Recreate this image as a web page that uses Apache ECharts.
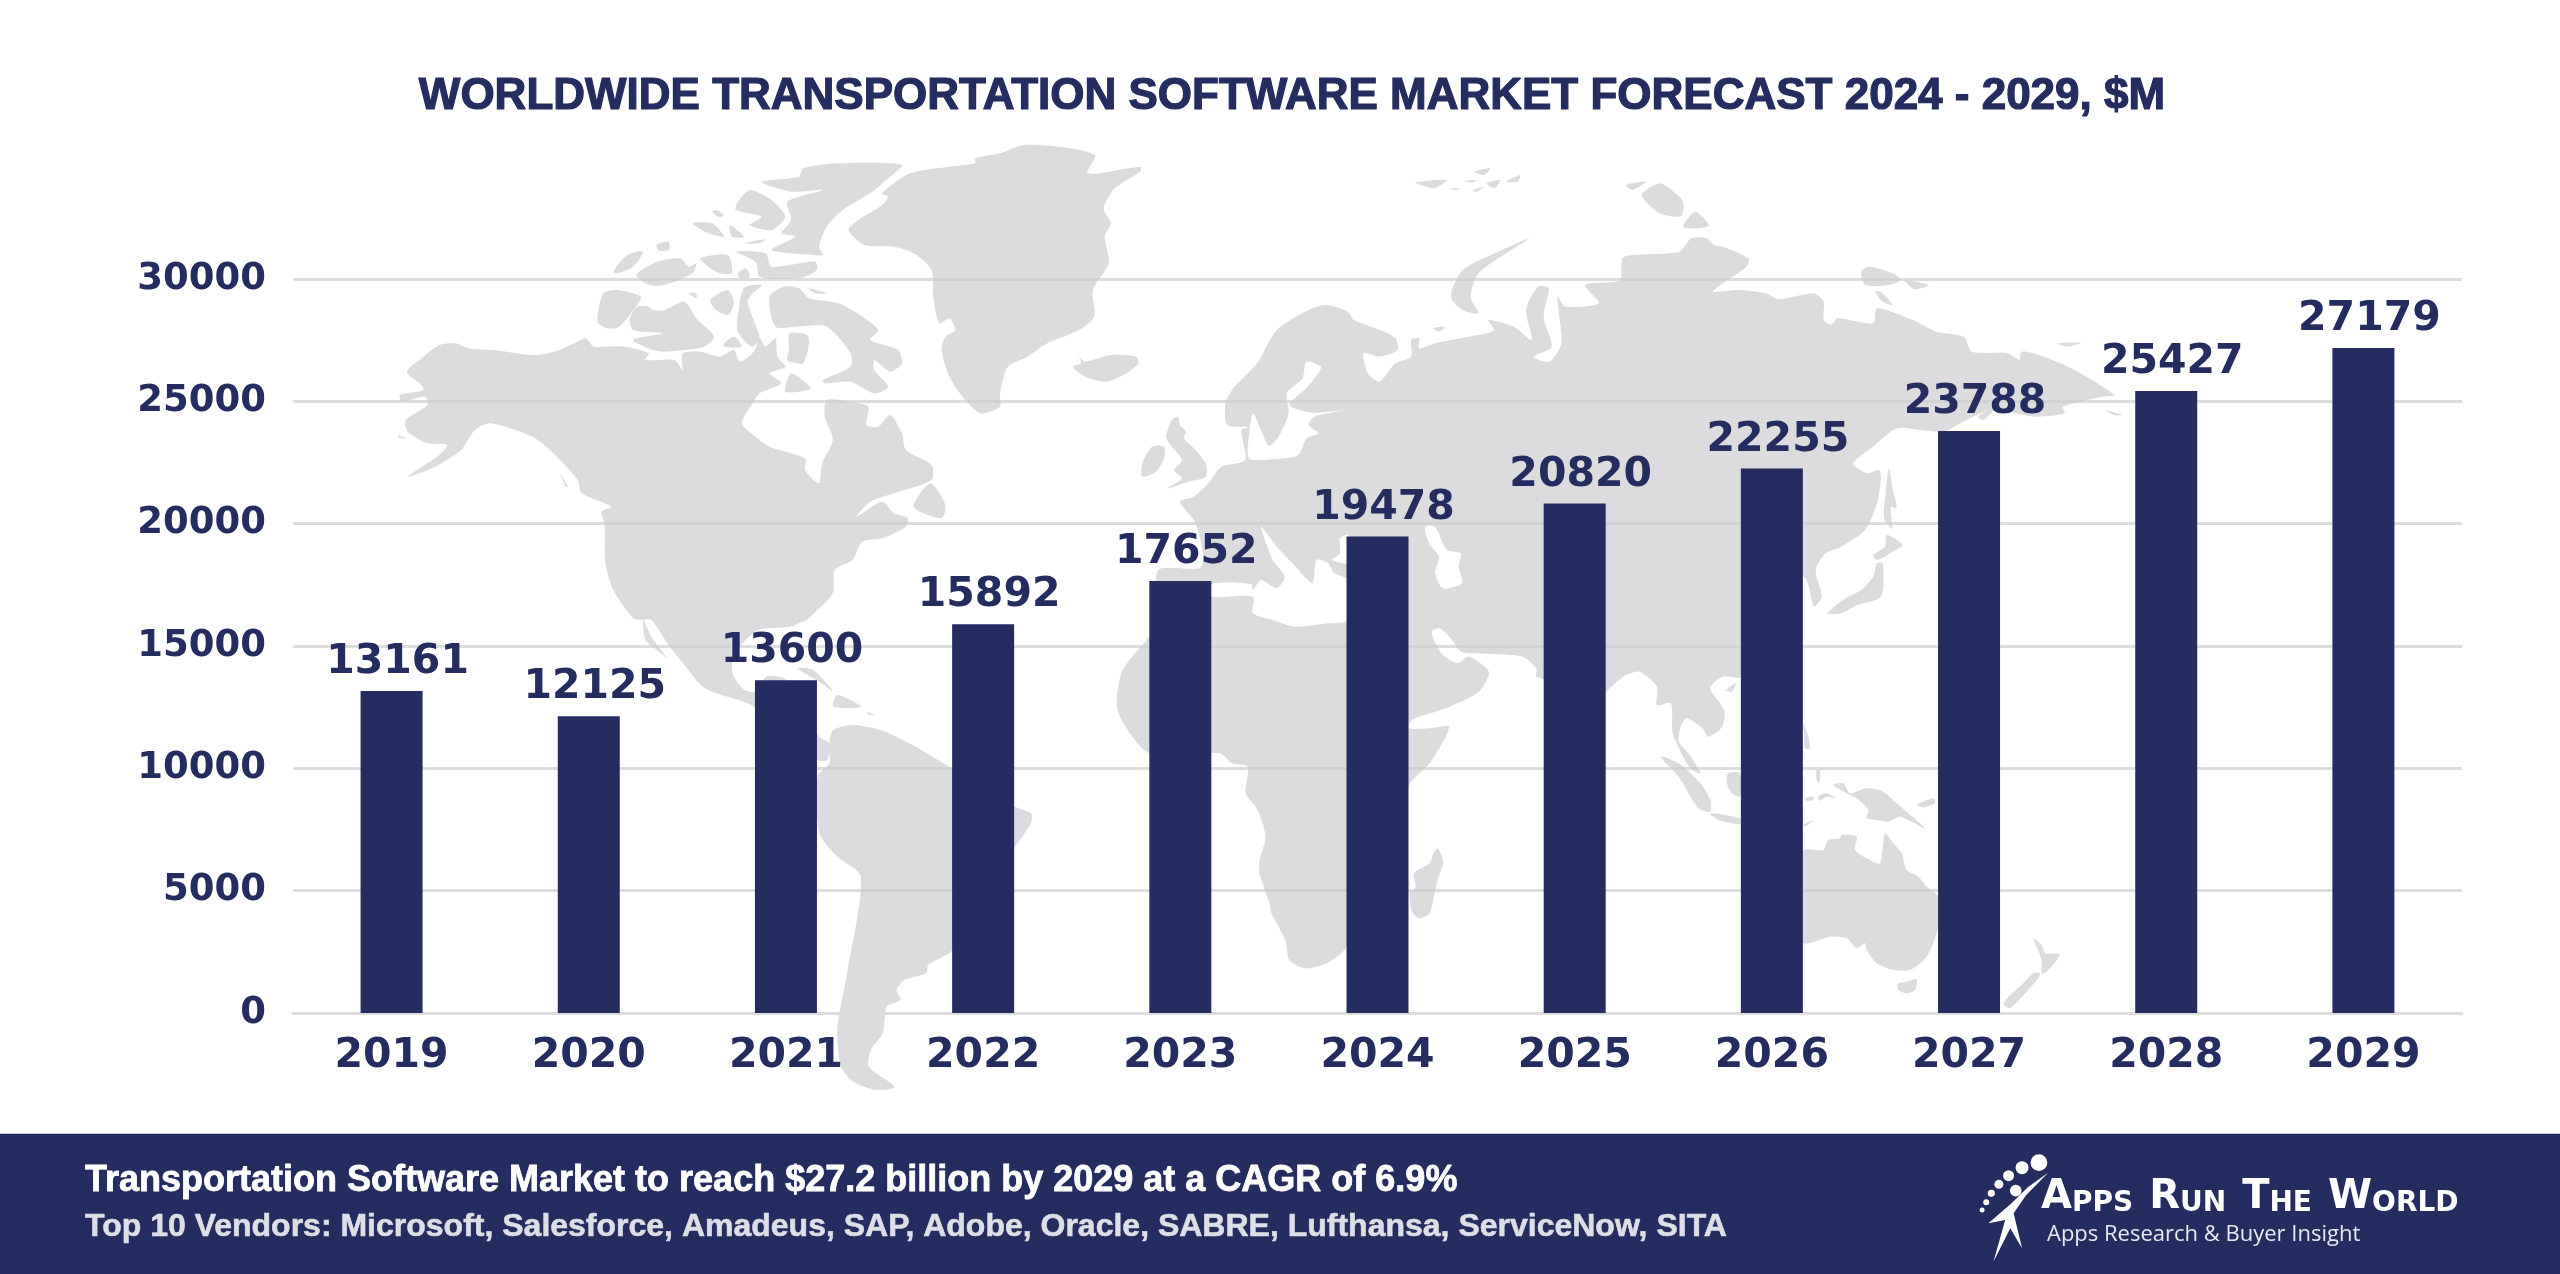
<!DOCTYPE html>
<html>
<head>
<meta charset="utf-8">
<title>Transportation Software Market Forecast</title>
<style>
  html, body { margin: 0; padding: 0; background: #fff; }
  #main { width: 2560px; height: 1274px; }
</style>
<script src="https://cdn.jsdelivr.net/npm/echarts@6/dist/echarts.min.js"></script>
</head>
<body>
<div id="main"></div>
<script>
// chart data
const years = ['2019', '2020', '2021', '2022', '2023', '2024', '2025', '2026', '2027', '2028', '2029'];
const marketValues = [13161, 12125, 13600, 15892, 17652, 19478, 20820, 22255, 23788, 25427, 27179];
const chartTitle = 'WORLDWIDE TRANSPORTATION SOFTWARE MARKET FORECAST 2024 - 2029, $M';
const footerHeadline = 'Transportation Software Market to reach $27.2 billion by 2029 at a CAGR of 6.9%';
const footerVendors = 'Top 10 Vendors: Microsoft, Salesforce, Amadeus, SAP, Adobe, Oracle, SABRE, Lufthansa, ServiceNow, SITA';

const navy = '#242C60';
const landColor = '#DCDBDE';

// background map, traced by hand from crops of the picture.
// each crop is [left, top, scaleX, scaleY], outlines are given in crop pixels
const A = [380, 130, 2.529, 3];
const B = [1000, 130, 2.529, 3];
const C = [1620, 130, 2.529, 3];
const D = [600, 620, 2.529, 3];
const E = [1220, 620, 2.529, 3];
const F = [1680, 620, 3, 3];
const G = [1900, 1120, 2.376, 3];

function toPage(crop, list) {
  return list.map(function (p) { return [crop[0] + p[0] / crop[2], crop[1] + p[1] / crop[3]]; });
}
function chain() {
  let out = [];
  for (let i = 0; i < arguments.length; i += 2) {
    out = out.concat(toPage(arguments[i], arguments[i + 1]));
  }
  return out;
}

const northAmerica = chain(
  A, [[68,725],[110,680],[150,645],[190,640],[225,655],[300,662],[390,675],[440,665],[500,635],[520,625],[540,650],[570,650],[620,650],[680,670],[670,690],[745,690],[765,720],[765,670],[810,665],[860,680],[895,660],[910,695],[945,665],[960,625],[975,650],[1000,625],[1005,680],[1025,710],[985,730],[1015,760],[960,790],[945,815],[915,880],[950,920],[985,950],[1075,985],[1075,1020],[1110,1060],[1118,1000],[1145,930],[1125,860],[1130,810],[1190,815],[1235,830],[1230,885],[1260,890],[1290,855],[1320,910],[1330,960],[1395,1005],[1395,1050],[1300,1090],[1240,1115],[1205,1160],[1270,1115],[1300,1150],[1335,1165],[1330,1190],[1270,1225],[1220,1235],[1195,1290],[1150,1320],[1145,1390],[1080,1470]],
  D, [[523,0],[480,20],[400,30],[340,100],[335,160],[365,210],[395,215],[420,170],[460,172],[480,190],[500,260],[555,350],[580,370],[575,420],[550,420],[390,260],[265,205],[210,130],[170,70],[130,0]],
  A, [[655,1470],[640,1465],[590,1380],[570,1300],[568,1180],[560,1145],[585,1130],[510,1090],[500,1050],[430,960],[385,920],[280,880],[240,900],[205,960],[140,1010],[70,1040],[150,975],[170,945],[120,940],[70,905],[65,870],[120,825],[115,800],[55,815],[50,795],[110,780],[100,760]]
);
const southAmerica = chain(D, [[590,330],[640,315],[710,330],[790,375],[890,445],[1050,560],[1090,580],[1090,610],[1050,680],[892,990],[830,1035],[825,1060],[770,1080],[750,1110],[760,1140],[725,1160],[715,1240],[685,1290],[680,1340],[745,1400],[700,1410],[640,1385],[610,1340],[600,1230],[625,1060],[660,770],[600,710],[555,640],[550,470],[580,430],[580,370]]);
const greenland = chain(
  A, [[1270,190],[1340,130],[1440,110],[1505,100],[1505,85],[1568,70]],
  B, [[60,45],[150,50],[240,75],[222,130],[355,110],[355,125],[290,175],[262,235],[280,280],[265,320],[275,400],[235,480],[238,560],[200,600],[120,640],[70,680],[20,710],[0,790]],
  A, [[1568,830],[1520,850],[1480,810],[1440,740],[1420,660],[1430,620],[1455,600],[1440,565],[1415,580],[1400,510],[1395,420],[1350,370],[1300,350],[1225,345],[1185,300],[1210,270],[1270,225],[1285,200]]
);
const eurasiaAfrica = chain(
  B, [[400,1470],[400,1320],[510,1310],[495,1180],[455,1115],[490,1100],[530,1055],[560,1010],[620,990],[610,900],[630,892],[575,885],[570,820],[590,775],[650,700],[700,600],[780,540],[825,525],[880,545],[895,570],[950,595],[1000,625],[1005,660],[960,680],[920,670],[930,730],[960,755],[1000,700],[1040,680],[1040,630],[1060,625],[1060,655],[1100,640],[1230,610],[1250,600],[1235,570],[1300,590],[1345,630],[1330,540],[1360,470],[1388,475],[1375,560],[1395,650],[1350,680],[1390,695],[1420,640],[1410,500],[1430,530],[1515,520],[1480,465],[1568,450]],
  C, [[5,385],[30,375],[150,365],[180,325],[220,325],[238,345],[260,350],[325,385],[320,410],[260,460],[235,485],[300,480],[370,490],[400,508],[490,490],[515,515],[515,570],[535,585],[550,565],[640,580],[650,535],[740,570],[800,605],[870,620],[890,665],[980,670],[1010,690],[1015,665],[1060,675],[1150,720],[1250,795],[1220,800],[1120,830],[1125,850],[1050,860],[950,840],[920,870],[905,860],[930,840],[860,880],[820,905],[760,900],[700,895],[640,950],[590,1000],[625,1030],[655,1020],[660,1040],[650,1120],[620,1200],[560,1250],[520,1270],[495,1320],[510,1400],[490,1430],[478,1370],[463,1340]],
  E, [[1320,170],[1270,170],[1240,205],[1275,270],[1270,320],[1235,350],[1220,325],[1180,295],[1165,320],[1160,365],[1185,400],[1215,460],[1190,445],[1165,395],[1145,340],[1140,250],[1105,255],[1105,200],[1060,155],[1020,170],[978,215],[900,340],[820,180],[800,170],[800,145],[765,110],[640,100],[610,95],[580,50],[555,25],[535,35],[560,100],[600,130],[630,110],[680,155],[655,215],[570,265],[485,300],[478,325],[530,325],[580,320],[530,430],[478,495],[320,980],[270,1030],[215,1045],[175,1020],[165,960],[130,880],[125,850],[100,760],[100,720],[115,650],[95,570],[65,520],[70,440],[30,430],[0,400]],
  D, [[1390,400],[1310,275],[1320,155],[1392,45]]
);
const australia = chain(F, [[300,760],[370,690],[430,690],[445,660],[480,655],[485,645],[530,650],[525,690],[560,715],[600,730],[615,640],[640,670],[665,700],[680,750],[715,770],[740,800],[775,830],[775,920],[740,1010],[690,1050],[640,1050],[590,1030],[560,990],[555,970],[530,985],[500,955],[450,950],[370,970],[300,900]]);

const islands = [
  // arctic canada
  [A, [[965,155],[1060,140],[1070,115],[1160,100],[1320,105],[1280,150],[1240,190],[1170,240],[1130,290],[1110,350],[1120,375],[1095,375],[990,360],[1050,320],[1015,310],[1040,270],[1030,215],[1120,180],[1040,185]]],
  [A, [[905,215],[935,180],[990,210],[1025,260],[990,300],[935,285],[965,260],[900,240]]],
  [A, [[790,280],[840,280],[870,320],[830,310]]],
  [A, [[885,285],[920,320],[890,320]]],
  [A, [[850,240],[870,255],[860,262],[840,245]]],
  [A, [[590,425],[625,375],[665,365],[640,410],[600,430]]],
  [A, [[650,430],[700,395],[760,385],[780,410],[800,400],[790,430],[720,465],[680,465],[650,440]]],
  [A, [[810,385],[880,375],[890,430],[860,430],[830,410]]],
  [A, [[900,365],[975,370],[990,410],[1100,395],[1105,420],[1060,445],[960,440],[950,395]]],
  [A, [[905,430],[925,415],[935,440],[910,445]]],
  [A, [[920,340],[975,328],[960,340]]],
  [A, [[700,345],[730,335],[730,360],[705,362]]],
  [A, [[565,490],[600,480],[660,500],[650,525],[605,590],[575,595],[550,575]]],
  [A, [[632,565],[650,530],[680,530],[690,540],[720,540],[770,515],[800,565],[845,620],[820,650],[770,660],[720,665],[690,660],[640,630],[715,610],[640,600]]],
  [A, [[835,510],[880,480],[895,520],[880,555],[850,540]]],
  [A, [[780,490],[800,490],[800,505]]],
  [A, [[985,500],[1020,470],[1060,475],[1085,505],[1160,520],[1220,560],[1260,600],[1240,630],[1310,660],[1320,700],[1290,725],[1250,690],[1250,720],[1285,770],[1250,790],[1190,755],[1125,760],[1120,750],[1190,710],[1190,670],[1130,590],[1050,590],[1000,590]]],
  [A, [[1035,610],[1080,615],[1085,640],[1070,700],[1030,690],[1035,660]]],
  [A, [[905,560],[920,475],[965,465],[930,510],[945,570],[960,625],[940,650],[905,605]]],
  [A, [[1040,730],[1090,775],[1060,785],[1025,785]]],
  [A, [[1085,475],[1130,490],[1100,490]]],
  [A, [[870,640],[895,620],[915,650],[870,650]]],
  [A, [[1392,1060],[1350,1130],[1420,1165],[1430,1125]]],
  [A, [[45,915],[65,925],[50,925]]],
  [A, [[455,1030],[475,1070],[470,1070]]],
  // caribbean and baja
  [D, [[110,0],[130,50],[170,115],[150,95],[115,60]]],
  [D, [[500,145],[540,150],[590,215],[560,190]]],
  [D, [[600,225],[660,260],[590,260]]],
  [D, [[675,275],[695,285],[680,285]]],
  // europe
  [B, [[200,680],[215,695],[280,675],[345,680],[350,700],[320,730],[270,755],[215,740],[185,710],[205,700]]],
  [B, [[420,920],[435,870],[450,860],[455,885],[470,905],[465,925],[490,955],[520,1000],[520,1040],[475,1055],[425,1075],[460,1045],[440,1020],[460,990],[435,950]]],
  [B, [[365,985],[385,950],[415,950],[415,985],[395,1025],[360,1040],[358,1010]]],
  // russian arctic
  [B, [[1340,325],[1260,365],[1170,420],[1140,500],[1170,540],[1210,550],[1190,500],[1210,430],[1280,370]]],
  [B, [[1050,158],[1130,150],[1100,175],[1080,170]]],
  [B, [[1200,125],[1240,115],[1225,135]]],
  [B, [[1175,152],[1205,150],[1195,158]]],
  [B, [[1135,175],[1165,175],[1150,180]]],
  [B, [[1195,180],[1225,170],[1205,185]]],
  [B, [[1230,160],[1265,150],[1250,175]]],
  [B, [[1280,155],[1315,135],[1310,155]]],
  [B, [[1095,595],[1125,590],[1110,605]]],
  [C, [[15,165],[65,155],[30,180]]],
  [C, [[55,195],[100,160],[130,180],[160,215],[155,258],[100,250]]],
  [C, [[160,290],[190,245],[225,285],[200,295]]],
  [C, [[610,425],[630,410],[690,430],[710,450],[680,465],[620,465]]],
  [C, [[720,450],[780,465],[745,478]]],
  [C, [[645,485],[660,485],[690,525],[665,515]]],
  [C, [[1105,640],[1165,638],[1130,650]]],
  [C, [[1225,840],[1270,855],[1250,855]]],
  // japan and sakhalin
  [C, [[680,1015],[690,1080],[700,1135],[685,1130],[688,1195],[668,1165],[672,1090]]],
  [C, [[675,1215],[715,1245],[690,1265],[650,1290],[640,1275],[670,1250]]],
  [C, [[650,1300],[665,1300],[660,1400],[600,1425],[560,1450],[525,1450],[570,1405],[610,1380],[640,1340]]],
  // indonesia and pacific
  [E, [[1115,410],[1160,430],[1215,490],[1240,540],[1240,575],[1210,565],[1160,470]]],
  [E, [[1240,580],[1315,595],[1315,612],[1260,600]]],
  [E, [[1285,460],[1315,460],[1315,530],[1295,520],[1282,490]]],
  [E, [[1280,210],[1305,190],[1295,215]]],
  [F, [[370,310],[385,350],[390,385],[375,385],[372,340]]],
  [F, [[410,450],[420,450],[418,490],[410,480]]],
  [F, [[375,535],[400,530],[400,540],[380,542]]],
  [F, [[415,530],[440,520],[465,535],[440,530],[420,542]]],
  [F, [[370,615],[400,600],[375,620]]],
  [F, [[460,495],[490,490],[510,520],[560,505],[610,515],[650,550],[735,625],[660,590],[625,605],[590,600],[560,595],[565,570],[530,535],[500,520]]],
  [F, [[710,555],[760,535],[765,550],[730,562]]],
  [F, [[655,1090],[680,1085],[710,1078],[705,1110],[680,1120],[655,1110]]],
  [F, [[1060,955],[1085,975],[1095,1000],[1140,1003],[1100,1055],[1085,1060],[1085,1020]]],
  [F, [[1080,1060],[1075,1075],[990,1165],[970,1150],[1030,1090],[1060,1060]]],
  // madagascar
  [E, [[550,685],[565,725],[550,780],[530,880],[505,895],[485,875],[480,820],[495,800],[490,760],[530,730],[540,700]]]
];

// seas cut out of the land shapes
const waters = [
  [B, [[537,1362],[635,1362],[640,1380],[660,1350],[700,1375],[720,1340],[690,1290],[660,1190],[700,1250],[740,1300],[790,1360],[800,1290],[830,1300],[845,1330],[880,1350],[880,1470],[830,1480],[745,1490],[690,1470],[640,1450],[640,1400],[537,1400]]],
  [B, [[860,1225],[880,1215],[900,1300],[840,1290],[860,1270]]],
  [B, [[1075,1190],[1100,1190],[1130,1260],[1165,1270],[1160,1310],[1168,1360],[1120,1375],[1100,1330],[1110,1280],[1085,1240]]],
  [B, [[775,695],[812,712],[778,770],[732,825],[790,848],[870,840],[795,860],[780,885],[805,910],[775,925],[755,975],[690,988],[630,985],[632,895],[640,850],[660,900],[680,948],[705,920],[730,850],[725,790],[765,745]]],
  [A, [[1140,660],[1160,655],[1165,680],[1150,690]]]
];

function shape(points, fill, z) {
  return { type: 'polygon', silent: true, z: z, shape: { points: points, smooth: 0.25 }, style: { fill: fill } };
}

let elements = [];
[northAmerica, southAmerica, greenland, eurasiaAfrica, australia].forEach(function (p) {
  elements.push(shape(p, landColor, -3));
});
islands.forEach(function (it) { elements.push(shape(toPage(it[0], it[1]), landColor, -3)); });
waters.forEach(function (it) { elements.push(shape(toPage(it[0], it[1]), '#fff', -2)); });

// footer band
elements.push({ type: 'rect', silent: true, z: 5, shape: { x: 0, y: 1134, width: 2560, height: 140 }, style: { fill: navy } });
elements.push({ type: 'rect', silent: true, z: 5, shape: { x: 0, y: 1133, width: 2560, height: 1 }, style: { fill: '#C6C8D6' } });
elements.push({ type: 'text', z: 6, style: { text: footerHeadline, x: 85, y: 1181, fill: '#fff', font: 'bold 36px "Liberation Sans"', verticalAlign: 'middle', stroke: '#fff', lineWidth: 0.8 } });
elements.push({ type: 'text', z: 6, style: { text: footerVendors, x: 85, y: 1227, fill: '#DDDEE6', font: 'bold 32px "Liberation Sans"', verticalAlign: 'middle', stroke: '#DDDEE6', lineWidth: 0.6 } });

// logo
const dots = [[330,128,8.4],[290,143,6.5],[258,167,5.5],[235,193,4.5],[217,220,3.6],[205,247,3],[195,270,2.5],[275,212,5.8]];
dots.forEach(function (d) {
  elements.push({ type: 'circle', silent: true, z: 6, shape: { cx: G[0] + d[0] / G[2], cy: G[1] + d[1] / G[3], r: d[2] }, style: { fill: '#fff' } });
});
elements.push({ type: 'polygon', silent: true, z: 6, shape: { points: toPage(G, [[352,158],[300,225],[270,280],[290,385],[262,325],[222,425],[250,300],[210,310],[265,250],[305,200]]) }, style: { fill: '#fff' } });
elements.push({
  type: 'text', z: 6,
  style: {
    x: 2041, y: 1198, verticalAlign: 'middle',
    text: '{b|A}{e|PPS}{b|R}{e|UN}{b|T}{e|HE}{b|W}{s|ORLD}',
    rich: {
      b: { fill: '#fff', font: 'bold 40px "DejaVu Sans"', verticalAlign: 'bottom' },
      s: { fill: '#fff', font: 'bold 28px "DejaVu Sans"', verticalAlign: 'bottom' },
      e: { fill: '#fff', font: 'bold 28px "DejaVu Sans"', verticalAlign: 'bottom', padding: [0, 16, 0, 0] }
    }
  }
});
elements.push({ type: 'text', z: 6, style: { text: 'Apps Research & Buyer Insight', x: 2047, y: 1235, fill: '#E8E9F0', font: '22px "Open Sans"', verticalAlign: 'middle' } });

const chart = echarts.init(document.getElementById('main'));
chart.setOption({
  animation: false,
  backgroundColor: '#fff',
  title: {
    text: chartTitle,
    left: 1287,
    top: 70,
    textAlign: 'center',
    textStyle: { color: navy, fontSize: 44, fontWeight: 'bold', fontFamily: '"Liberation Sans"', textBorderColor: navy, textBorderWidth: 1.2 }
  },
  grid: { left: 293, right: 98, top: 279, bottom: 261 },
  xAxis: {
    type: 'category',
    data: years,
    axisTick: { show: false },
    axisLine: { lineStyle: { color: '#DDDDDD', width: 3 } },
    axisLabel: { color: navy, fontSize: 41, fontWeight: 'bold', fontFamily: '"DejaVu Sans"', margin: 23 }
  },
  yAxis: {
    type: 'value',
    min: 0,
    max: 30000,
    interval: 5000,
    axisLine: { show: false },
    axisTick: { show: false },
    splitLine: { lineStyle: { color: 'rgba(205,205,205,0.65)', width: 3 } },
    axisLabel: {
      color: navy, fontSize: 37, fontWeight: 'bold', fontFamily: '"DejaVu Sans"', margin: 27,
      padding: [6, 0, 0, 0],
      formatter: function (v) { return String(v); }
    }
  },
  series: [{
    type: 'bar',
    data: marketValues,
    barWidth: 62,
    itemStyle: { color: navy },
    label: {
      show: true,
      position: 'top',
      offset: [6, -3],
      color: navy,
      fontSize: 41,
      fontWeight: 'bold',
      fontFamily: '"DejaVu Sans"'
    }
  }],
  graphic: { elements: elements }
});
</script>
</body>
</html>
